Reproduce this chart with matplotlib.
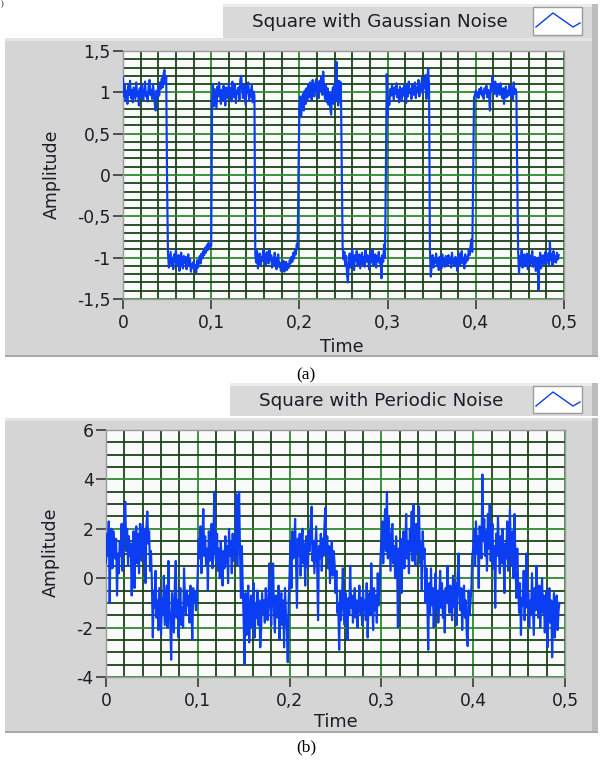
import numpy as np
import matplotlib
matplotlib.use("Agg")
import matplotlib.pyplot as plt
from matplotlib.patches import Rectangle
from matplotlib.ticker import MultipleLocator, FuncFormatter

# ---------------- data (sampled every 1 ms) ----------------
dt = 0.001

gauss_vals = [
    1.18, 0.95, 1.10, 0.90, 1.02, 0.86, 1.08, 0.97, 1.14, 0.93,
    1.03, 0.88, 1.06, 0.99, 0.92, 1.12, 0.96, 1.01, 0.84, 1.05,
    0.94, 1.09, 0.98, 0.91, 1.04, 1.13, 0.95, 1.00, 0.89, 1.07,
    1.15, 0.97, 1.03, 0.92, 1.10, 0.99, 0.86, 0.78, 1.02, 0.93,
    1.08, 0.96, 1.12, 1.04, 1.17, 1.06, 1.22, 1.27, 1.10, 1.19,
    -0.12,
    -0.95, -1.12, -1.02, -0.93, -1.08, -1.00, -1.14, -0.96, -1.05,
    -0.91, -1.10, -1.03, -0.97, -1.16, -1.01, -0.94, -1.09, -1.13, -0.98,
    -1.06, -0.99, -1.14, -1.04, -0.96, -1.10, -1.02, -1.17, -1.08, -1.12,
    -1.05, -1.15, -1.09, -1.18, -1.03, -1.12, -1.06, -0.98, -1.07, -0.95,
    -1.01, -0.92, -0.97, -0.88, -0.94, -0.85, -0.91, -0.82, -0.87, -0.84,
    -0.86,
    0.88, 1.10, 0.83, 1.04, 0.92, 0.80, 1.07, 0.95, 1.12,
    0.97, 0.86, 1.03, 0.90, 1.08, 0.99, 0.84, 1.06, 1.01, 0.93,
    1.11, 0.96, 1.05, 0.89, 1.13, 1.00, 0.94, 1.09, 0.87, 1.02,
    0.98, 1.06, 0.91, 1.15, 1.20, 1.04, 0.93, 1.10, 0.97, 0.85,
    1.07, 0.99, 1.12, 0.90, 1.03, 0.95, 1.08, 0.88, 1.01, 0.96,
    -0.97, -1.06, -0.92, -1.13, -1.01, -0.95, -1.09, -0.99, -1.04, -0.90,
    -1.02, -0.96, -1.10, -0.93, -0.98, -1.07, -0.91, -1.03, -0.97, -1.12,
    -1.00, -1.08, -0.94, -1.05, -1.14, -1.02, -0.96, -1.11, -1.06, -1.16,
    -1.09, -1.13, -1.04, -1.17, -1.10, -1.05, -1.15, -1.08, -1.12, -1.03,
    -1.07, -0.99, -1.05, -0.94, -1.01, -0.90, -0.96, -0.84, -0.88,
    0.06,
    0.82, 0.95, 0.72, 0.90, 0.98, 0.78, 1.02, 0.86, 1.05, 0.91,
    1.09, 0.94, 1.12, 0.98, 0.90, 1.15, 1.02, 0.95, 1.10, 1.16,
    1.00, 1.12, 0.93, 1.14, 1.02, 1.19, 0.97, 1.25, 1.04, 0.92,
    1.08, 0.88, 1.05, 0.85, 1.00, 0.80, 0.73, 0.98, 1.06, 0.86,
    1.10, 0.91, 1.37, 0.98, 0.84, 1.14, 0.88, 1.12,
    0.08,
    -0.86, -1.02, -0.93, -1.10, -0.98, -1.21, -1.30, -1.05, -0.95, -1.12, -1.00,
    -0.89, -1.07, -1.15, -0.97, -1.04, -0.92, -1.09, -1.01, -0.96, -1.13,
    -1.03, -0.94, -1.08, -0.99, -1.11, -0.91, -1.05, -0.97, -1.02, -1.14,
    -0.95, -1.06, -1.00, -0.90, -1.09, -1.03, -0.96, -1.12, -0.98, -1.04,
    -0.93, -1.07, -1.01, -1.25, -0.97, -1.05, -0.84, -1.00,
    -0.04,
    1.22, 0.70, 0.93, 0.85, 1.04, 0.96, 1.09, 1.00, 0.91, 1.06, 0.98,
    1.11, 0.94, 1.03, 0.88, 1.07, 0.99, 0.90, 1.05, 0.96, 1.10,
    1.02, 0.87, 1.08, 0.95, 1.13, 0.99, 1.04, 0.92, 1.09, 1.01,
    0.97, 1.12, 0.93, 1.06, 1.00, 1.15, 0.95, 1.08, 1.03, 1.18,
    0.98, 1.10, 1.05, 1.21, 0.92, 1.14, 1.29, 1.08,
    -0.91, -1.23, -1.08, -0.97, -1.12, -1.02, -1.06, -0.95, -1.10, -1.01, -1.15, -0.99,
    -1.05, -1.13, -0.96, -1.08, -1.02, -1.11, -0.98, -1.04, -1.09, -0.97,
    -1.06, -1.00, -1.12, -0.94, -1.07, -1.03, -1.10, -0.99, -1.05, -1.16,
    -1.01, -0.95, -1.09, -1.04, -0.92, -1.07, -1.00, -1.13, -0.96, -1.06,
    -0.99, -1.03, -0.90, -0.97, -0.86, -0.78, -0.93,
    -0.04,
    0.94, 0.97, 1.02, 0.95, 1.00, 0.93, 1.04, 0.98, 1.06, 0.96, 1.01, 0.92,
    1.05, 0.99, 1.08, 0.94, 1.03, 0.97, 0.78, 1.10, 1.02, 1.19,
    1.06, 0.98, 1.13, 1.01, 0.95, 1.09, 1.03, 0.97, 1.11, 1.00,
    0.93, 1.05, 0.86, 0.99, 1.07, 0.94, 1.02, 0.96, 1.09, 1.01,
    0.95, 1.06, 0.91, 1.12, 0.98, 1.04, 1.00,
    -0.04,
    -0.93, -1.19, -0.98, -1.07, -0.91, -1.12, -1.02, -0.96, -1.10, -1.04, -0.95, -1.14,
    -1.01, -0.97, -1.08, -1.03, -0.92, -1.11, -1.05, -0.99, -1.16, -1.06,
    -1.00, -1.39, -1.09, -0.94, -1.13, -1.02, -0.97, -1.08, -1.04, -0.93,
    -1.07, -1.01, -0.95, -1.10, -0.81, -1.03, -0.96, -1.09, -0.92, -1.05,
    -0.98, -1.06, -0.94, -1.02, -0.97,
]

periodic_vals = [
    0.6, 1.8, 0.9, 2.3, -1.0, 1.5, 2.0, 0.4, 1.9, 1.2,
    0.8, 1.6, -0.7, 1.0, 0.2, 1.5, 0.9, 2.2, 0.3, 1.8,
    2.6, 3.1, 1.1, 2.0, 0.5, 1.7, 0.9, 1.4, -0.7, 1.2,
    1.9, -0.4, 1.6, 2.1, 0.6, 1.8, 0.2, 2.2, 1.3, 0.7,
    2.2, 1.0, 2.0, -0.2, 2.1, 2.7, 1.4, 1.9, 0.3, 1.1,
    -0.2, -2.4, -0.5, -1.2, 0.3, -1.6, -0.9, -2.1, -0.4, -1.3,
    -2.3, -0.8, -1.5, 0.1, -1.9, -1.1, -0.3, -2.0, 0.7, -1.2,
    -1.8, -3.3, -0.6, -1.4, -2.2, -0.2, 0.7, -1.6, -0.9, -2.4,
    -1.0, -0.4, -1.9, -1.2, -2.0, 0.4, -0.8, -1.5, -0.5, -1.1,
    -0.7, -1.8, -0.3, -1.2, -2.5, -0.4, -1.0, -0.6, -1.3, -0.8,
    0.3, 1.6, 0.8, 2.1, 0.2, 1.4, 2.8, 0.9, 1.7, 0.5,
    1.2, -0.5, 1.9, 0.7, 1.3, 2.2, 0.4, 1.6, 3.5, 1.0,
    0.6, 1.8, 0.3, 1.2, 0.0, 1.5, 0.8, -0.3, 1.1, 0.4,
    1.7, 0.6, 1.3, -0.2, 2.0, 0.9, 1.5, 0.2, 1.8, 0.7,
    0.9, 1.6, 3.4, 0.5, 2.2, 3.5, 1.0, -0.8, 1.3, -0.4,
    -1.8, -3.5, -0.6, -2.3, -1.1, -0.3, -2.6, -1.4, -0.7, -2.0,
    -1.2, -0.2, -2.4, -1.0, -1.6, -0.5, -1.9, -0.9, -2.8, -2.1,
    -0.6, -1.4, -0.9, -1.8, -0.4, -1.1, -1.7, -0.8, 0.6, -1.2,
    -1.9, -0.5, 0.6, -1.3, -2.2, -0.7, -1.0, -1.6, -0.3, -2.5,
    -1.1, -0.6, -1.9, -0.9, -2.8, -0.4, -1.4, -2.0, -3.4, -0.9,
    0.2, 1.5, -0.4, 1.9, 0.8, 1.2, 2.4, 0.5, -1.2, 1.6,
    0.9, 1.8, 0.1, 1.3, 2.0, 0.6, 1.4, -0.3, 1.7, 1.0,
    0.4, 1.9, 1.1, 2.3, 2.9, 0.7, 1.5, 0.2, 1.2, 2.1,
    0.5, -1.7, 1.3, 0.8, 1.8, 0.3, 1.6, 0.9, 2.2, 2.85,
    1.0, 1.7, 0.4, 1.3, -0.2, 0.9, 1.5, 0.1, 1.1, 0.6,
    -0.6, 0.3, -1.4, -1.0, -2.9, -0.5, -1.7, -0.9, 0.4, -1.3,
    -1.9, -0.6, -1.1, -2.5, -0.8, -1.5, 0.5, -1.2, -0.7, -1.8,
    -1.0, -0.4, -1.6, -0.9, -2.0, -1.2, -0.3, -1.4, -0.8, -1.9,
    -0.5, -1.3, -0.9, -1.7, -0.2, -2.4, -1.1, -0.6, -1.5, 0.6,
    -1.0, -2.1, -0.4, -1.3, -0.7, -1.8, 0.2, -1.1, -0.5, 0.8,
    1.5, 2.3, 0.6, 1.9, 2.8, 1.1, 3.5, 0.8, 2.5, 1.4,
    0.3, 1.8, 2.2, 0.6, 1.3, 0.0, 1.7, 0.9, -2.0, 1.2,
    0.5, 1.6, -0.6, 1.0, 1.9, 0.4, 1.4, 2.6, 0.8, 1.5,
    0.2, 2.0, 1.1, 2.7, 0.7, 3.0, 1.3, 0.5, 2.2, 1.0,
    1.8, 2.9, 0.6, 1.4, -0.5, 1.9, 0.8, 1.2, -1.0, 0.4,
    -0.8, -2.9, -0.2, -1.5, 0.4, -1.1, -0.4, -2.0, -0.7, 0.2,
    -1.3, -0.5, -1.8, -0.9, 0.3, -1.2, -0.2, -1.6, -0.6, -2.2,
    -0.4, -1.0, 0.5, -0.8, -1.4, -0.3, -0.9, -1.7, 0.1, -0.6,
    -1.2, -0.2, -1.9, 0.0, 1.0, -0.7, -1.3, -0.4, -2.1, -0.8,
    -0.3, -1.6, -0.9, -2.3, -2.75, -0.5, -1.5, -1.0, -0.4, 0.9,
    1.2, 2.0, 0.5, 2.3, 1.0, 1.7, -0.4, 2.1, 1.4, 0.8,
    4.2, 1.5, 2.4, 0.9, 1.9, 0.3, 2.6, 1.2, 3.0, 0.7,
    1.6, 2.2, 0.4, 1.3, -1.2, 1.8, 0.9, 2.5, 1.1, 0.2,
    1.7, 0.6, 2.0, 1.0, -0.6, 1.4, 0.8, 2.3, 0.3, 1.5,
    2.8, 1.1, 0.5, 1.9, 0.0, 2.6, 0.7, -0.8, 1.2, -0.3,
    -1.4, -0.2, -2.3, -0.8, -1.1, 0.3, -1.7, -0.5, 1.0, -1.2,
    -0.6, -2.0, -0.9, -1.5, 0.2, -1.0, -2.3, -0.4, -1.3, 0.5,
    -0.8, -1.6, -0.3, -2.0, -1.1, 0.0, -1.4, -0.7, -2.2, -1.0,
    -0.5, -2.8, -1.2, -0.4, -1.8, -0.9, -3.2, -1.5, -0.6, -2.4,
    -1.1, -0.7, -2.1, -1.3, -1.0,
]

x_ticks = [0, 0.1, 0.2, 0.3, 0.4, 0.5]
a_y_ticks = [-1.5, -1, -0.5, 0, 0.5, 1, 1.5]
b_y_ticks = [-4, -2, 0, 2, 4, 6]
legend_a = "Square with Gaussian Noise"
legend_b = "Square with Periodic Noise"
x_label = "Time"
y_label = "Amplitude"

# ---------------- styling ----------------
W, H = 604, 760
FONT = "DejaVu Sans"
TXT = "#1c1c28"
LINE = "#0b3df2"
MAJ = "#2f8a2f"
MIN = "#1a441a"
PANEL = "#d5d5d5"

fig = plt.figure(figsize=(W / 100, H / 100), dpi=100)
fig.patch.set_facecolor("white")

bg = fig.add_axes([0, 0, 1, 1], zorder=-10)
bg.set_xlim(0, W)
bg.set_ylim(H, 0)
bg.axis("off")


def panel(y0, y1, lx0, ly0, ly1, text, tx):
    bg.add_patch(Rectangle((5, y0), 593, y1 - y0, fc=PANEL, ec="none"))
    bg.add_patch(Rectangle((5, y0), 593, 3, fc="#e4e4e4", ec="none"))
    bg.add_patch(Rectangle((592, y0), 6, y1 - y0, fc="#bdbdbd", ec="none"))
    bg.add_patch(Rectangle((5, y1 - 2), 593, 2, fc="#a9a9a9", ec="none"))
    bg.add_patch(Rectangle((lx0, ly0), 598 - lx0, ly1 - ly0, fc="#d9d9d9", ec="none"))
    bg.add_patch(Rectangle((lx0, ly0), 598 - lx0, 3, fc="#ececec", ec="none"))
    bg.add_patch(Rectangle((592, ly0), 6, ly1 - ly0, fc="#bdbdbd", ec="none"))
    bg.text(tx, (ly0 + ly1) / 2 + 1, text, ha="left", va="center", fontsize=13.2,
            family=FONT, color=TXT)
    bx0, by0 = 533, ly0 + 3
    bg.add_patch(Rectangle((bx0, by0), 49, ly1 - ly0 - 6, fc="white", ec="#9c9c9c", lw=1))
    bg.plot([bx0 + 3, bx0 + 20, bx0 + 40, bx0 + 47],
            [by0 + 20, by0 + 6, by0 + 20, by0 + 16], color=LINE, lw=1)


panel(38, 357, 223, 4, 38, legend_a, 252)
panel(418, 733, 230, 383, 416, legend_b, 259)

bg.text(306, 375, "(a)", ha="center", va="center", fontsize=12.5,
        family="Liberation Serif", color="black")
bg.text(306, 747, "(b)", ha="center", va="center", fontsize=12.5,
        family="Liberation Serif", color="black")
bg.text(0.5, 4, ")", ha="left", va="center", fontsize=6,
        family="Liberation Serif", color="black")


def fmt(v, pos=None):
    return ("%g" % v).replace(".", ",")


def make_axes(rect_px, vals, yticks, ylim, yminor, ylabel_xy, xlabel_xy):
    l, t, r, b = rect_px
    ax = fig.add_axes([l / W, 1 - b / H, (r - l) / W, (b - t) / H])
    ax.set_facecolor("#fafafa")
    tt = np.arange(len(vals)) * dt
    ax.plot(tt, vals, color=LINE, lw=1.55, zorder=3)
    ax.set_xlim(0, 0.5)
    ax.set_ylim(*ylim)
    ax.set_xticks(x_ticks)
    ax.set_yticks(yticks)
    ax.xaxis.set_minor_locator(MultipleLocator(0.02))
    ax.yaxis.set_minor_locator(MultipleLocator(yminor))
    ax.xaxis.set_major_formatter(FuncFormatter(fmt))
    ax.yaxis.set_major_formatter(FuncFormatter(fmt))
    ax.set_axisbelow(True)
    ax.grid(which="minor", color=MIN, lw=1.3)
    ax.grid(which="major", color=MAJ, lw=1.3)
    ax.tick_params(which="minor", length=0)
    ax.tick_params(which="major", direction="out", length=7, width=1.2,
                   color="#3a3a3a", labelsize=12.3, labelcolor=TXT)
    ax.tick_params(axis="x", pad=4)
    ax.tick_params(axis="y", pad=2)
    for lab in ax.get_xticklabels() + ax.get_yticklabels():
        lab.set_family(FONT)
    for s in ax.spines.values():
        s.set_color("#9a9a9a")
        s.set_linewidth(1)
    bg.text(ylabel_xy[0], ylabel_xy[1], y_label, rotation=90, ha="center",
            va="center", fontsize=12.5, family=FONT, color=TXT)
    bg.text(xlabel_xy[0], xlabel_xy[1], x_label, ha="center", va="center",
            fontsize=12.8, family=FONT, color=TXT)
    return ax


make_axes((123, 51, 564, 299), gauss_vals, a_y_ticks, (-1.5, 1.5), 0.1,
          (52, 174), (342, 347))
make_axes((106, 430, 565, 677), periodic_vals, b_y_ticks, (-4, 6), 0.5,
          (51, 552), (336, 722))

fig.savefig("out.png", dpi=100, facecolor="white")
